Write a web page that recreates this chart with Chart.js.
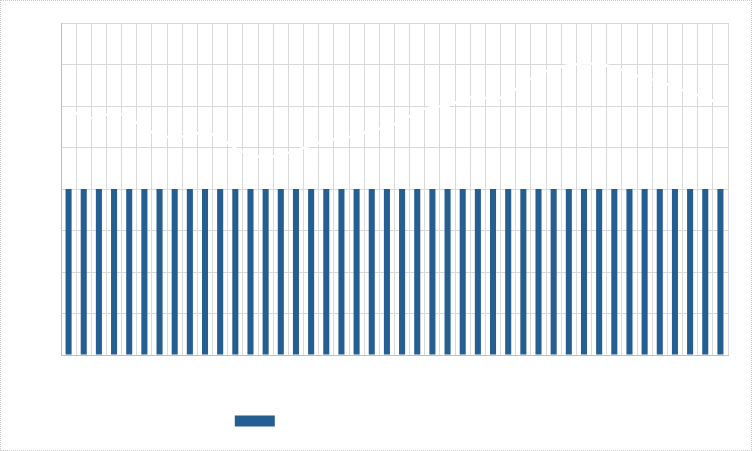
<!DOCTYPE html>
<html>
<head>
    <title>Chart</title>
    <style>
        html, body { margin: 0; padding: 0; background: #fff; }
        .frame { width: 752px; height: 451px; box-sizing: border-box; border: 1px dotted #c9c9c9; position: relative; }
    </style>
</head>
<body>
    <div class="frame"><canvas id="chart"></canvas></div>
    <script src="https://cdn.jsdelivr.net/npm/chart.js@4/dist/chart.umd.min.js"></script>
    <script>
        // categories (labels are white in the original, so they never show)
        const categories = ['1','2','3','4','5','6','7','8','9','10','11','12','13','14','15','16','17','18','19','20','21','22',
            '23','24','25','26','27','28','29','30','31','32','33','34','35','36','37','38','39','40','41','42','43','44'];
        // bar series: every bar sits on the same value
        const barValues = [4,4,4,4,4,4,4,4,4,4,4,4,4,4,4,4,4,4,4,4,4,4,4,4,4,4,4,4,4,4,4,4,4,4,4,4,4,4,4,4,4,4,4,4];
        // line series (drawn in white, only visible where it covers the grid)
        const lineValues = [5.95,5.70,5.73,5.85,5.73,5.46,5.27,5.24,5.29,5.39,5.24,4.98,4.81,4.76,4.81,4.93,5.05,5.17,5.22,5.29,5.41,5.49,
            5.63,5.87,5.99,6.00,6.16,6.26,6.14,6.26,6.55,6.77,6.91,6.98,7.03,7.01,6.94,6.79,6.67,6.60,6.45,6.31,6.21,6.04];
        const seriesNames = ['Monthly volume', '12-month averages'];
        const yTicks = { min: 0, max: 8, step: 1 };

        new Chart(document.getElementById('chart'), {
            type: 'bar',
            data: {
                labels: categories,
                datasets: [
                    { label: seriesNames[0], data: barValues, backgroundColor: '#255e91', categoryPercentage: 1, barPercentage: 0.4 },
                    { type: 'line', label: seriesNames[1], data: lineValues, borderColor: '#ffffff', backgroundColor: '#ffffff',
                      borderWidth: 2.5, pointRadius: 0, tension: 0 }
                ]
            },
            options: {
                responsive: true,
                maintainAspectRatio: false,
                animation: false,
                layout: { padding: { left: 60, right: 23, top: 22, bottom: 13 } },
                scales: {
                    x: {
                        grid: { color: '#d9d9d9', offset: true, drawTicks: false },
                        border: { color: '#bfbfbf' },
                        ticks: { display: false },
                        afterFit: (axis) => { axis.height += 20; }
                    },
                    y: {
                        min: yTicks.min, max: yTicks.max,
                        grid: { color: '#d9d9d9', drawTicks: false },
                        border: { color: '#bfbfbf' },
                        ticks: { display: false, stepSize: yTicks.step }
                    }
                },
                plugins: {
                    tooltip: { enabled: false },
                    legend: {
                        position: 'bottom',
                        labels: { color: '#ffffff', boxWidth: 40, boxHeight: 11, padding: 40, font: { size: 12, family: 'Liberation Sans' } }
                    }
                }
            }
        });
    </script>
</body>
</html>
